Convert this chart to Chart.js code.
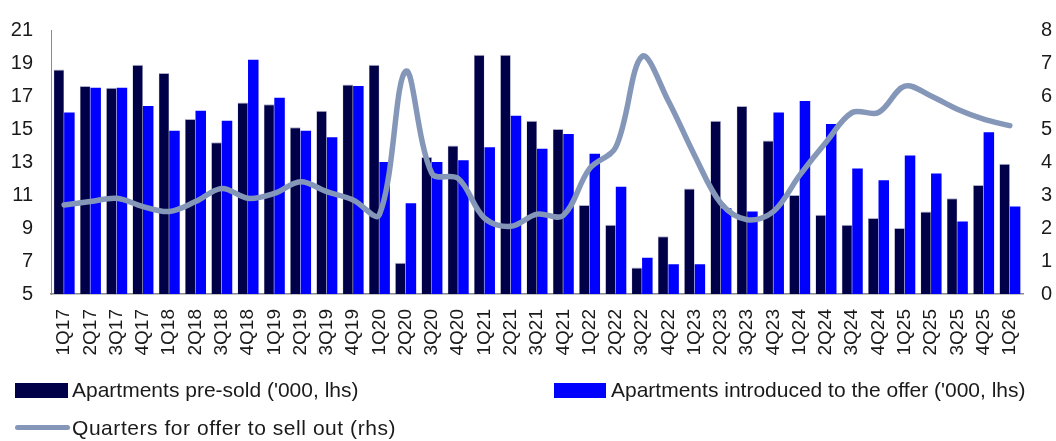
<!DOCTYPE html>
<html>
<head>
<meta charset="utf-8">
<script src="https://cdn.jsdelivr.net/npm/chart.js@4/dist/chart.umd.min.js"></script>
<style>
  html, body { margin: 0; padding: 0; background: #ffffff; }
  #wrap { position: relative; width: 1056px; height: 441px; overflow: hidden; }
  canvas { position: absolute; left: 0; top: 0; }
  .lg { position: absolute; font-family: "Liberation Sans", Arial, sans-serif; font-size: 21px; color: #1a1a1a; white-space: nowrap; line-height: 22px; }
  .sw { position: absolute; }
</style>
</head>
<body>
<div id="wrap">
  <canvas id="c" width="1056" height="441"></canvas>
  <div class="sw" style="left:15px;top:383px;width:53px;height:15px;background:#000048"></div>
  <div class="lg" style="left:72px;top:379px">Apartments pre-sold ('000, lhs)</div>
  <div class="sw" style="left:554px;top:383px;width:52px;height:15px;background:#0000ff"></div>
  <div class="lg" style="left:611px;top:379px">Apartments introduced to the offer ('000, lhs)</div>
  <div class="sw" style="left:15px;top:425px;width:55px;height:5px;border-radius:3px;background:#8497b9"></div>
  <div class="lg" style="left:72px;top:417px;letter-spacing:0.55px">Quarters for offer to sell out (rhs)</div>
</div>
<script>
// Quarterly labels
const quarters = ['1Q17','2Q17','3Q17','4Q17','1Q18','2Q18','3Q18','4Q18','1Q19','2Q19','3Q19','4Q19',
  '1Q20','2Q20','3Q20','4Q20','1Q21','2Q21','3Q21','4Q21','1Q22','2Q22','3Q22','4Q22',
  '1Q23','2Q23','3Q23','4Q23','1Q24','2Q24','3Q24','4Q24','1Q25','2Q25','3Q25','4Q25','1Q26'];

// Apartments pre-sold ('000)
const preSold = [18.6,17.6,17.5,18.9,18.4,15.6,14.2,16.6,16.5,15.1,16.1,17.7,
  18.9,6.9,13.3,14.0,19.5,19.5,15.5,15.0,10.4,9.2,6.6,8.5,
  11.4,15.5,16.4,14.3,11.0,9.8,9.2,9.6,9.0,10.0,10.8,11.6,12.9];

// Apartments introduced to the offer ('000)
const introduced = [16.0,17.5,17.5,16.4,14.9,16.1,15.5,19.2,16.9,14.9,14.5,17.6,
  13.0,10.5,13.0,13.1,13.9,15.8,13.8,14.7,13.5,11.5,7.2,6.8,
  6.8,10.2,10.0,16.0,16.7,15.3,12.6,11.9,13.4,12.3,9.4,14.8,10.3];

// Quarters needed for the offer to sell out
const quartersToSell = [2.7,2.8,2.9,2.65,2.5,2.8,3.2,2.9,3.05,3.4,3.1,2.85,
  2.4,6.75,3.65,3.5,2.3,2.05,2.42,2.38,3.8,4.45,7.2,5.85,
  4.2,2.75,2.25,2.5,3.6,4.6,5.5,5.5,6.3,6.0,5.6,5.3,5.1];

const leftTicks = [5, 21, 2];
const rightTicks = [0, 8, 1];

const tickFont = { family: '"Liberation Sans", Arial, sans-serif', size: 20 };
const ink = '#1a1a1a';

new Chart(document.getElementById('c'), {
  data: {
    labels: quarters,
    datasets: [
      {
        type: 'line', label: 'Quarters for offer to sell out (rhs)', data: quartersToSell,
        yAxisID: 'y1', order: 0, borderColor: '#8497b9', borderWidth: 5.5,
        pointRadius: 0, tension: 0.35, borderCapStyle: 'round', fill: false
      },
      {
        type: 'bar', label: "Apartments pre-sold ('000, lhs)", data: preSold,
        yAxisID: 'y', order: 1, backgroundColor: '#000048',
        borderColor: 'rgba(120,120,160,0.6)', borderWidth: { top: 1, left: 0.5, right: 0.5, bottom: 0 },
        categoryPercentage: 0.8, barPercentage: 1.0
      },
      {
        type: 'bar', label: "Apartments introduced to the offer ('000, lhs)", data: introduced,
        yAxisID: 'y', order: 1, backgroundColor: '#0000ff',
        categoryPercentage: 0.8, barPercentage: 1.0
      }
    ]
  },
  options: {
    responsive: false,
    animation: false,
    layout: { padding: { top: 20, left: 0, right: 0, bottom: 0 } },
    plugins: { legend: { display: false }, tooltip: { enabled: false } },
    scales: {
      x: {
        offset: true,
        grid: { display: false, drawTicks: false },
        border: { display: true, color: '#8a8a8a', width: 1.5 },
        ticks: { color: ink, font: { family: tickFont.family, size: 19 }, minRotation: 90, maxRotation: 90, padding: 15, autoSkip: false },
        afterFit: s => { s.height = 147; }
      },
      y: {
        position: 'left', min: leftTicks[0], max: leftTicks[1],
        grid: { display: false, drawTicks: false },
        border: { display: true, color: '#8a8a8a', width: 1 },
        ticks: { stepSize: leftTicks[2], color: ink, font: tickFont, padding: 18 },
        afterFit: s => { s.width = 51; }
      },
      y1: {
        position: 'right', min: rightTicks[0], max: rightTicks[1],
        grid: { display: false, drawTicks: false },
        border: { display: false },
        ticks: { stepSize: rightTicks[2], color: ink, font: tickFont, padding: 18 },
        afterFit: s => { s.width = 33; }
      }
    }
  }
});
</script>
</body>
</html>
